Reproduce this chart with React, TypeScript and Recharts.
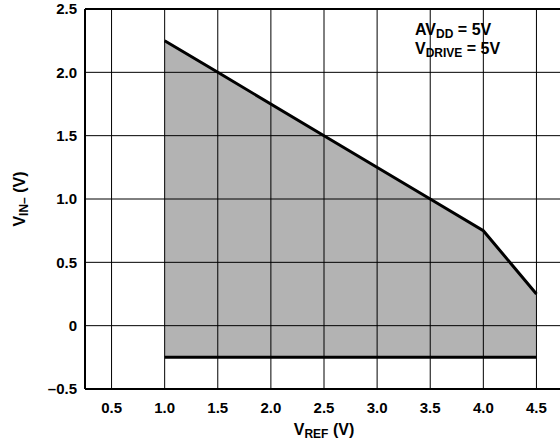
import React from 'react'
import {
  ComposedChart, Area, Line, XAxis, YAxis, ReferenceLine, ReferenceArea,
} from 'recharts'

const vRef = [1.0, 1.5, 2.5, 3.5, 4.0, 4.5]
const vInUpper = [2.25, 2.0, 1.5, 1.0, 0.75, 0.25]
const vInLower = [-0.25, -0.25, -0.25, -0.25, -0.25, -0.25]

const xTicks = [0.5, 1.0, 1.5, 2.0, 2.5, 3.0, 3.5, 4.0, 4.5]
const xTickLabels = ['0.5', '1.0', '1.5', '2.0', '2.5', '3.0', '3.5', '4.0', '4.5']
const yTicks = [-0.5, 0, 0.5, 1.0, 1.5, 2.0, 2.5]
const yTickLabels = ['\u20130.5', '0', '0.5', '1.0', '1.5', '2.0', '2.5']

const data = vRef.map((x, i) => ({
  x,
  upper: vInUpper[i],
  lower: vInLower[i],
  range: [vInLower[i], vInUpper[i]],
}))

const FONT = 'Arial, "Liberation Sans", Helvetica, sans-serif'
const tickStyle = { fontSize: 15, fontWeight: 700, fill: '#000', fontFamily: FONT }

function XLabel() {
  return (
    <text x={324} y={435} textAnchor="middle" fontFamily={FONT} fontWeight={700} fontSize={16} fill="#000">
      V<tspan fontSize={12} dy={3}>REF</tspan><tspan dy={-3}> (V)</tspan>
    </text>
  )
}

function YLabel() {
  return (
    <text x={0} y={0} transform="translate(25,199) rotate(-90)" textAnchor="middle" fontFamily={FONT} fontWeight={700} fontSize={16} fill="#000">
      V<tspan fontSize={12} dy={3}>IN–</tspan><tspan dy={-3}> (V)</tspan>
    </text>
  )
}

function Note() {
  return (
    <g fontFamily={FONT} fontWeight={700} fontSize={16} fill="#000">
      <text x={415} y={35}>
        AV<tspan fontSize={12} dy={3}>DD</tspan><tspan dy={-3}> = 5V</tspan>
      </text>
      <text x={415} y={54}>
        V<tspan fontSize={12} dy={3}>DRIVE</tspan><tspan dy={-3}> = 5V</tspan>
      </text>
    </g>
  )
}

export default function App() {
  return (
    <div style={{ position: 'absolute', left: 0, top: 0, width: 560, height: 442, overflow: 'hidden', background: '#fff' }}>
      <ComposedChart width={570} height={442} data={data} margin={{ top: 9, right: 7, bottom: 0, left: 0 }}>
        <XAxis
          dataKey="x"
          type="number"
          domain={[0.25, 4.75]}
          ticks={xTicks}
          tickFormatter={(v: number) => xTickLabels[xTicks.indexOf(v)] ?? ''}
          tick={tickStyle}
          tickLine={false}
          tickSize={0}
          tickMargin={13}
          height={53}
          axisLine={{ stroke: '#000', strokeWidth: 2 }}
          label={<XLabel />}
        />
        <YAxis
          type="number"
          domain={[-0.5, 2.5]}
          ticks={yTicks}
          tickFormatter={(v: number) => yTickLabels[yTicks.indexOf(v)] ?? ''}
          tick={tickStyle}
          tickLine={false}
          tickSize={0}
          tickMargin={8}
          width={85}
          axisLine={{ stroke: '#000', strokeWidth: 2 }}
          label={<YLabel />}
        />
        <Area
          dataKey="range"
          type="linear"
          stroke="none"
          fill="#b3b3b3"
          fillOpacity={1}
          isAnimationActive={false}
        />
        {xTicks.map(t => (
          <ReferenceLine key={'vx' + t} x={t} stroke="#000" strokeWidth={1} />
        ))}
        {yTicks.map(t => (
          <ReferenceLine key={'hy' + t} y={t} stroke="#000" strokeWidth={t === 2.5 ? 2 : 1} />
        ))}
        <ReferenceLine x={4.75} stroke="#000" strokeWidth={2} />
        <ReferenceArea x1={3.3} x2={4.23} y1={2.04} y2={2.476} fill="#fff" fillOpacity={1} stroke="none" label={<Note />} />
        <Line dataKey="upper" type="linear" stroke="#000" strokeWidth={3} dot={false} isAnimationActive={false} />
        <Line dataKey="lower" type="linear" stroke="#000" strokeWidth={3} dot={false} isAnimationActive={false} />
      </ComposedChart>
    </div>
  )
}
